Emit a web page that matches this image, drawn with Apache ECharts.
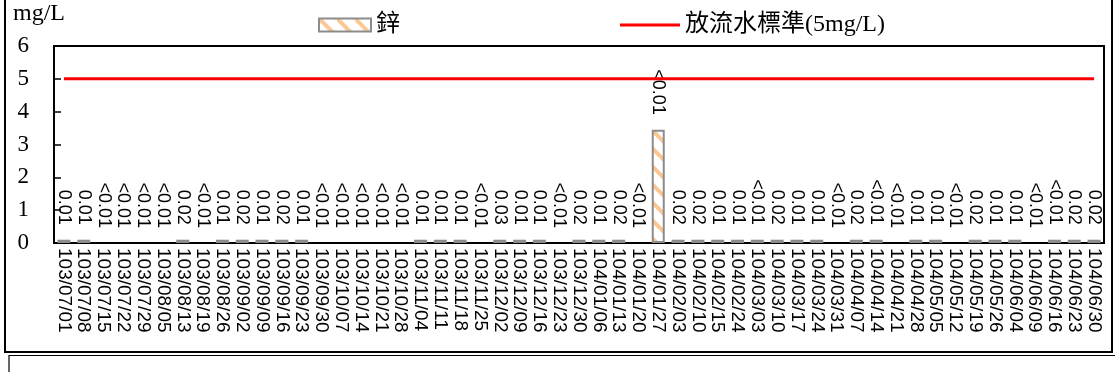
<!DOCTYPE html>
<html>
<head>
<meta charset="utf-8">
<script src="https://cdn.jsdelivr.net/npm/echarts@6/dist/echarts.min.js"></script>
<style>
  html, body { margin: 0; padding: 0; background: #fff; }
  #chart { width: 1115px; height: 372px; }
</style>
</head>
<body>
<div id="chart"></div>
<script>
// sampling dates (ROC calendar)
const dates = [
  "103/07/01", "103/07/08", "103/07/15", "103/07/22", "103/07/29", "103/08/05",
  "103/08/13", "103/08/19", "103/08/26", "103/09/02", "103/09/09", "103/09/16",
  "103/09/23", "103/09/30", "103/10/07", "103/10/14", "103/10/21", "103/10/28",
  "103/11/04", "103/11/11", "103/11/18", "103/11/25", "103/12/02", "103/12/09",
  "103/12/16", "103/12/23", "103/12/30", "104/01/06", "104/01/13", "104/01/20",
  "104/01/27", "104/02/03", "104/02/10", "104/02/15", "104/02/24", "104/03/03",
  "104/03/10", "104/03/17", "104/03/24", "104/03/31", "104/04/07", "104/04/14",
  "104/04/21", "104/04/28", "104/05/05", "104/05/12", "104/05/19", "104/05/26",
  "104/06/04", "104/06/09", "104/06/16", "104/06/23", "104/06/30"
];
// printed zinc results
const zincLabels = [
  "0.01", "0.01", "<0.01", "<0.01", "<0.01", "<0.01",
  "0.02", "<0.01", "0.01", "0.02", "0.01", "0.02",
  "0.01", "<0.01", "<0.01", "<0.01", "<0.01", "<0.01",
  "0.01", "0.01", "0.01", "<0.01", "0.03", "0.01",
  "0.01", "<0.01", "0.02", "0.01", "0.02", "<0.01",
  "<0.01", "0.02", "0.02", "0.01", "0.01", "<0.01",
  "0.02", "0.01", "0.01", "<0.01", "0.02", "<0.01",
  "<0.01", "0.01", "0.01", "<0.01", "0.02", "0.01",
  "0.01", "<0.01", "<0.01", "0.02", "0.02"
];
// bar heights as drawn (mg/L)
const zincBars = [
  0.1, 0.1, 0, 0, 0, 0,
  0.1, 0, 0.1, 0.1, 0.1, 0.1,
  0.1, 0, 0, 0, 0, 0,
  0.1, 0.1, 0.1, 0, 0.1, 0.1,
  0.1, 0, 0.1, 0.1, 0.1, 0,
  3.45, 0.1, 0.1, 0.1, 0.1, 0.1,
  0.1, 0.1, 0.1, 0, 0.1, 0.1,
  0, 0.1, 0.1, 0, 0.1, 0.1,
  0.1, 0, 0.1, 0.1, 0.1
];
const limitValue = 5;
const yTicks = [0, 1, 2, 3, 4, 5, 6];

const serif = "'Liberation Serif', 'Times New Roman', 'Noto Sans CJK TC', serif";
const sans = "'Liberation Sans', Arial, sans-serif";

function stripePattern() {
  const s = 18;
  const c = document.createElement("canvas");
  c.width = s;
  c.height = s;
  const ctx = c.getContext("2d");
  ctx.fillStyle = "#ffffff";
  ctx.fillRect(0, 0, s, s);
  ctx.strokeStyle = "#fbc690";
  ctx.lineWidth = 4;
  [-1, 0, 1].forEach((k) => {
    ctx.beginPath();
    ctx.moveTo(0, k * s);
    ctx.lineTo(s, s + k * s);
    ctx.stroke();
  });
  return { image: c, repeat: "repeat" };
}

const chart = echarts.init(document.getElementById("chart"));
const pattern = stripePattern();
const legendText = { fontFamily: serif, fontSize: 24, color: "#000" };

chart.setOption({
  animation: false,
  backgroundColor: "#fff",
  legend: [
    {
      left: 313,
      top: 8,
      itemWidth: 52,
      itemHeight: 13,
      textStyle: legendText,
      data: [{ name: "鋅", icon: "rect" }]
    },
    {
      left: 615,
      top: 8,
      itemWidth: 60,
      itemHeight: 3,
      textStyle: legendText,
      data: [{ name: "放流水標準(5mg/L)", icon: "rect" }]
    }
  ],
  grid: {
    left: 54,
    right: 11,
    top: 46,
    bottom: 129,
    show: true,
    borderColor: "#000",
    borderWidth: 2,
    containLabel: false
  },
  xAxis: {
    type: "category",
    data: dates,
    axisLine: { lineStyle: { color: "#000", width: 2 } },
    axisTick: { show: false },
    axisLabel: {
      interval: 0,
      rotate: -90,
      margin: 5,
      color: "#000",
      fontFamily: sans,
      fontSize: 19
    }
  },
  yAxis: {
    type: "value",
    min: yTicks[0],
    max: yTicks[yTicks.length - 1],
    interval: 1,
    splitLine: { show: false },
    axisLine: { show: true, lineStyle: { color: "#000", width: 2 } },
    axisTick: { show: true, inside: true, length: 7, lineStyle: { color: "#000", width: 1.5 } },
    axisLabel: { margin: 25, color: "#000", fontFamily: serif, fontSize: 23 }
  },
  graphic: [
    {
      type: "text",
      left: 13,
      top: 2,
      style: { text: "mg/L", font: "24px " + serif, fill: "#000" }
    },
    {
      type: "rect",
      shape: { x: 5, y: -5, width: 1107, height: 357 },
      style: { fill: "none", stroke: "#000", lineWidth: 2 },
      silent: true
    },
    {
      type: "rect",
      shape: { x: 9, y: 355.5, width: 1115, height: 40 },
      style: { fill: "none", stroke: "#000", lineWidth: 1.2 },
      silent: true
    }
  ],
  series: [
    {
      name: "鋅",
      type: "bar",
      barWidth: 13,
      data: zincBars.map((v) => (v > 0 ? v : { value: 0, itemStyle: { borderWidth: 0 } })),
      itemStyle: {
        color: pattern,
        borderColor: "#8c8c8c",
        borderWidth: 2
      },
      label: {
        show: true,
        position: "top",
        distance: 15,
        rotate: -90,
        align: "right",
        verticalAlign: "middle",
        color: "#000",
        fontFamily: sans,
        fontSize: 18,
        formatter: (p) => zincLabels[p.dataIndex]
      },
      z: 2
    },
    {
      name: "放流水標準(5mg/L)",
      type: "line",
      data: dates.map(() => limitValue),
      symbol: "none",
      lineStyle: { color: "#ff0000", width: 3 },
      itemStyle: { color: "#ff0000" },
      z: 3
    }
  ]
});
</script>
</body>
</html>
